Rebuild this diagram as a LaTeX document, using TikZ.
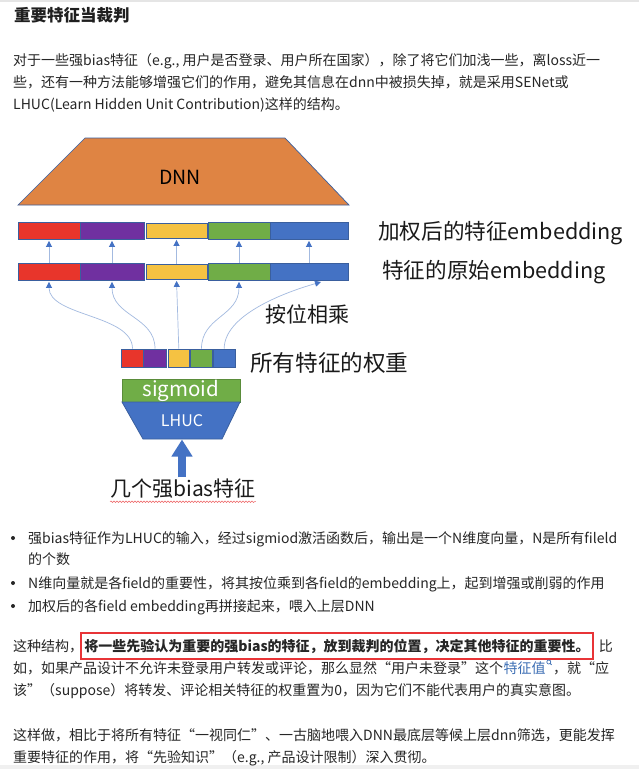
\documentclass[tikz,border=0pt]{standalone}
\usepackage{fontspec}
\setmainfont{Noto Sans CJK SC}
\usetikzlibrary{calc,arrows.meta,decorations.pathmorphing}

\definecolor{txt}{HTML}{262626}
\definecolor{lbltxt}{HTML}{1A1A1A}
\definecolor{dnnorange}{HTML}{DF8443}
\definecolor{segred}{HTML}{E8352B}
\definecolor{segpurple}{HTML}{7030A0}
\definecolor{segyellow}{HTML}{F5C242}
\definecolor{seggreen}{HTML}{70AD47}
\definecolor{segblue}{HTML}{4472C4}
\definecolor{segborder}{HTML}{3A5F9E}
\definecolor{sigborder}{HTML}{5A8C3A}
\definecolor{thinline}{HTML}{A3BAE0}
\definecolor{arrowblue}{HTML}{4472C4}
\definecolor{linkblue}{HTML}{3C6EB4}
\definecolor{hlred}{HTML}{E83437}

\begin{document}
\begin{tikzpicture}[x=1pt,y=-1pt,
  body/.style={inner sep=0pt, anchor=west, text=txt,
    font=\fontsize{14}{16}\selectfont, text height=12.3pt, text depth=1.7pt},
  bodyb/.style={body, font=\fontsize{14}{16}\selectfont\bfseries},
  headline/.style={inner sep=0pt, anchor=west, text=black!88,
    font=\fontsize{16.5}{18}\selectfont\bfseries, text height=14.5pt, text depth=2pt},
  lbl/.style={inner sep=0pt, anchor=west, text=lbltxt,
    font=\fontsize{22}{25}\selectfont, text height=19.4pt, text depth=2.6pt},
  seg/.style={draw=segborder, line width=0.8pt, inner sep=0pt, minimum height=17pt},
  wseg/.style={seg, minimum height=18pt},
  thinarrow/.style={draw=thinline, line width=0.7pt,
    -{Triangle[length=6pt,width=6pt,color=arrowblue]}, shorten >=1.5pt},
  dot/.style={fill=txt},
]
% page
\fill[white] (0,0) rectangle (639,769);
\useasboundingbox (0,0) rectangle (639,769);
\fill[black!10] (0,0) rectangle (639,1.5);
\fill[black!6] (0,765) rectangle (639,769);

% heading and first paragraph
\node[headline] (title) at (14,15) {重要特征当裁判};
\node[body] (p1a) at (13,60) {对于一些强bias特征（e.g., 用户是否登录、用户所在国家），除了将它们加浅一些，离loss近一};
\node[body] (p1b) at (13,82) {些，还有一种方法能够增强它们的作用，避免其信息在dnn中被损失掉，就是采用SENet或};
\node[body] (p1c) at (13,104) {LHUC(Learn Hidden Unit Contribution)这样的结构。};

% DNN block
\filldraw[fill=dnnorange, draw=segborder, line width=0.7pt]
  (85,138) -- (285,138) -- (349,205) -- (18,205) -- cycle;
\node[font=\fontsize{19.5}{21}\selectfont, text=black] (dnn) at (180,177) {DNN};

% weighted embeddings
\node[seg, fill=segred,    minimum width=62pt] (u1) at (49,230.5) {};
\node[seg, fill=segpurple, minimum width=64pt] (u2) at (112,230.5) {};
\node[seg, fill=segyellow, minimum width=61pt, minimum height=15pt] (u3) at (176.5,230.5) {};
\node[seg, fill=seggreen,  minimum width=62pt] (u4) at (239,230.5) {};
\node[seg, fill=segblue,   minimum width=78pt] (u5) at (309,230.5) {};

% original embeddings
\node[seg, fill=segred,    minimum width=62pt] (l1) at (49,271.5) {};
\node[seg, fill=segpurple, minimum width=64pt] (l2) at (112,271.5) {};
\node[seg, fill=segyellow, minimum width=61pt, minimum height=15pt] (l3) at (176.5,271.5) {};
\node[seg, fill=seggreen,  minimum width=62pt] (l4) at (239,271.5) {};
\node[seg, fill=segblue,   minimum width=78pt] (l5) at (309,271.5) {};

\foreach \i in {1,...,5} {
  \draw[thinarrow] (l\i.north) -- (u\i.south);
}

% feature weights
\node[wseg, fill=segred,    minimum width=21.6pt] (w1) at (132.5,358) {};
\node[wseg, fill=segpurple, minimum width=23.4pt] (w2) at (155,358) {};
\node[wseg, fill=segyellow, minimum width=21pt]   (w3) at (178.8,358) {};
\node[wseg, fill=seggreen,  minimum width=21.6pt] (w4) at (201.5,358) {};
\node[wseg, fill=segblue,   minimum width=21.7pt] (w5) at (224.2,358) {};

% element-wise products
\coordinate (bt) at (321,282);
\draw[thinarrow] (w1.north) .. controls +(0,-34) and +(0,36) .. (l1.south);
\draw[thinarrow] (w2.north) .. controls +(0,-32) and +(0,36) .. (l2.south);
\draw[thinarrow] (w3.north) -- (l3.south);
\draw[thinarrow] (w4.north) .. controls +(0,-32) and +(0,36) .. (l4.south);
\draw[thinarrow, shorten >=0pt] (w5.north) .. controls +(0,-32) and +(-42,12) .. (bt);

% sigmoid and LHUC
\node[draw=sigborder, fill=seggreen, line width=0.8pt, minimum width=118pt,
  minimum height=23pt, inner sep=0pt, text=white,
  font=\fontsize{20.5}{22}\selectfont] (sig) at (181,390.5) {sigmoid};
\filldraw[fill=segblue, draw=segborder, line width=0.8pt]
  (122,402) -- (240,402) -- (222,439) -- (143,439) -- cycle;
\node[text=white, font=\fontsize{16}{18}\selectfont] (lhuc) at (182,421) {LHUC};
\coordinate (lhucbot) at (182,439.5);

% input features
\node[inner sep=0pt, text=lbltxt, font=\fontsize{21}{23}\selectfont,
  text height=18.5pt, text depth=2.5pt] (bias) at (183,488) {几个强bias特征};
\draw[arrowblue, line width=8.7pt, -{Triangle[length=17pt,width=20pt]}]
  (bias.north -| lhucbot) -- (lhucbot);
\draw[hlred!80, line width=0.5pt, decorate,
  decoration={snake, amplitude=0.8pt, segment length=3pt}]
  ($(bias.south west)+(0,3)$) -- ($(bias.south east)+(0,3)$);

% diagram labels
\node[lbl, font=\fontsize{21.6}{24}\selectfont] (wlab) at (378,231) {加权后的特征embedding};
\node[lbl, font=\fontsize{21.6}{24}\selectfont] (olab) at (382,270) {特征的原始embedding};
\node[lbl, font=\fontsize{21}{24}\selectfont] (mlab) at (265,314) {按位相乘};
\node[lbl, font=\fontsize{22.6}{25}\selectfont] (wtlab) at (250,363) {所有特征的权重};

% bullet list
\fill[dot] (13,538) circle (2pt);
\node[body] (b1a) at (28,538) {强bias特征作为LHUC的输入，经过sigmiod激活函数后，输出是一个N维度向量，N是所有fileld};
\node[body] (b1b) at (28,559) {的个数};
\fill[dot] (13,583) circle (2pt);
\node[body] (b2) at (28,583) {N维向量就是各field的重要性，将其按位乘到各field的embedding上，起到增强或削弱的作用};
\fill[dot] (13,606) circle (2pt);
\node[body] (b3) at (28,606) {加权后的各field embedding再拼接起来，喂入上层DNN};

% highlighted paragraph
\node[body] (p3a) at (13,646) {这种结构，};
\node[bodyb, draw=hlred, line width=2pt, inner xsep=3pt, inner ysep=6pt,
  anchor=west] (hl) at ($(p3a.east)+(-3,0)$) {将一些先验认为重要的强bias的特征，放到裁判的位置，决定其他特征的重要性。};
\node[body] (p3b) at ($(hl.east)+(5,0)$) {比};
\node[body] (p3c) at (13,668) {如，如果产品设计不允许未登录用户转发或评论，那么显然“用户未登录”这个};
\node[body, text=linkblue] (link) at (p3c.east) {特征值};
\draw[linkblue, line width=0.7pt] ($(link.east)+(3,-6)$) circle (2pt);
\draw[linkblue, line width=0.8pt] ($(link.east)+(4.4,-4.6)$) -- ($(link.east)+(5.8,-3.2)$);
\node[body] (p3d) at ($(link.east)+(7,0)$) {，就“应};
\node[body] (p3e) at (13,690) {该”（suppose）将转发、评论相关特征的权重置为0，因为它们不能代表用户的真实意图。};

% closing paragraph
\node[body] (p4a) at (13,735) {这样做，相比于将所有特征“一视同仁”、一古脑地喂入DNN最底层等候上层dnn筛选，更能发挥};
\node[body] (p4b) at (13,757) {重要特征的作用，将“先验知识”（e.g., 产品设计限制）深入贯彻。};
\end{tikzpicture}
\end{document}
